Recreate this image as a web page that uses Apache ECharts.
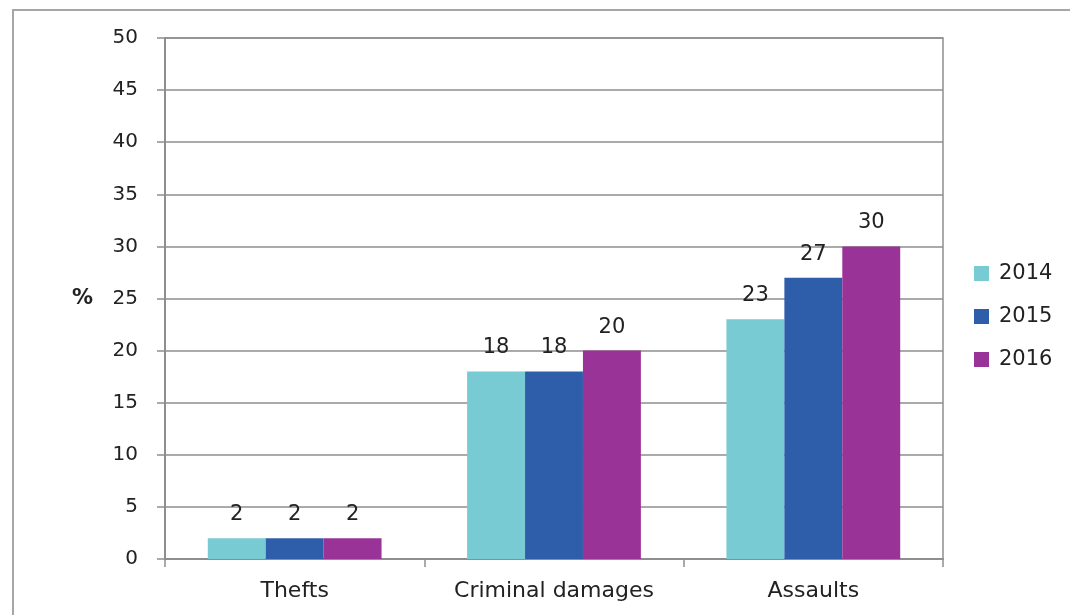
<!DOCTYPE html>
<html>
<head>
<meta charset="utf-8">
<script src="https://cdn.jsdelivr.net/npm/echarts@6/dist/echarts.min.js"></script>
<style>
  html, body { margin: 0; padding: 0; background: #ffffff; }
  #chart { width: 1070px; height: 615px; }
</style>
</head>
<body>
<div id="chart"></div>
<script>
// Offence categories and yearly shares (%)
const categories = ['Thefts', 'Criminal damages', 'Assaults'];
const years = ['2014', '2015', '2016'];
const values2014 = [2, 18, 23];
const values2015 = [2, 18, 27];
const values2016 = [2, 20, 30];
const yTicks = { min: 0, max: 50, interval: 5 };

const seriesColors = ['#78cad3', '#2e5eaa', '#9a3398'];
const FONT = 'DejaVu Sans';
const TEXT = '#222222';
const LINE = '#8e8e8e';

const chart = echarts.init(document.getElementById('chart'), null, { renderer: 'canvas' });

function barSeries(name, data, color) {
  return {
    name: name,
    type: 'bar',
    data: data,
    barGap: '0%',
    barCategoryGap: '33%',
    itemStyle: { color: color },
    label: {
      show: true,
      position: 'top',
      distance: 13,
      color: TEXT,
      fontFamily: FONT,
      fontSize: 21
    }
  };
}

chart.setOption({
  animation: false,
  backgroundColor: '#ffffff',
  color: seriesColors,
  graphic: [{
    type: 'rect',
    silent: true,
    z: -10,
    shape: { x: 13, y: 10, width: 1200, height: 800 },
    style: { fill: 'none', stroke: '#a6a6a6', lineWidth: 2 }
  }],
  grid: {
    left: 165, top: 38, right: 127, bottom: 56,
    show: true,
    borderColor: LINE,
    borderWidth: 1.5,
    backgroundColor: 'transparent'
  },
  legend: {
    orient: 'vertical',
    left: 974,
    top: 263,
    padding: 0,
    itemWidth: 15,
    itemHeight: 15,
    itemGap: 22,
    icon: 'rect',
    textStyle: { color: TEXT, fontFamily: FONT, fontSize: 21, padding: [0, 0, 0, 5] },
    data: years
  },
  xAxis: {
    type: 'category',
    data: categories,
    axisLine: { lineStyle: { color: LINE, width: 2 } },
    axisTick: { show: true, length: 8, lineStyle: { color: LINE, width: 1.5 } },
    axisLabel: { interval: 0, color: TEXT, fontFamily: FONT, fontSize: 22, margin: 21 },
    splitLine: { show: false }
  },
  yAxis: {
    type: 'value',
    min: yTicks.min,
    max: yTicks.max,
    interval: yTicks.interval,
    name: '%',
    nameLocation: 'middle',
    nameRotate: 0,
    nameGap: 72,
    nameTextStyle: { color: TEXT, fontFamily: FONT, fontSize: 21, fontWeight: 'bold' },
    axisLine: { show: true, lineStyle: { color: LINE, width: 2 } },
    axisTick: { show: true, length: 8, lineStyle: { color: LINE, width: 1.5 } },
    axisLabel: { color: TEXT, fontFamily: FONT, fontSize: 20, margin: 27 },
    splitLine: { show: true, lineStyle: { color: LINE, width: 1.5 } }
  },
  series: [
    barSeries(years[0], values2014, seriesColors[0]),
    barSeries(years[1], values2015, seriesColors[1]),
    barSeries(years[2], values2016, seriesColors[2])
  ]
});
</script>
</body>
</html>
